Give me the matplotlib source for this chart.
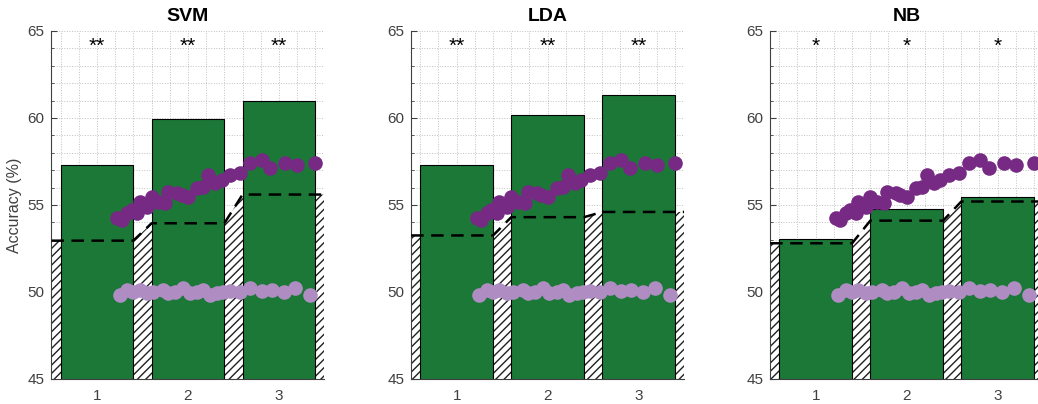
#import modules we need
import matplotlib.pyplot as plt
from matplotlib.ticker import MultipleLocator

# classifiers shown in each panel
classifiers = ['SVM', 'LDA', 'NB']
conditions = [1, 2, 3]

# decoding accuracy (%) per classifier and condition
acc_svm = [57.3, 59.95, 61.0]
acc_lda = [57.3, 60.15, 61.3]
acc_nb = [53.05, 54.75, 55.45]

# chance level (%) per classifier and condition
chance_svm = [52.95, 53.95, 55.6]
chance_lda = [53.25, 54.3, 54.6]
chance_nb = [52.8, 54.1, 55.2]

# significance marks per classifier
stars_svm = ['**', '**', '**']
stars_lda = ['**', '**', '**']
stars_nb = ['*', '*', '*']

# reference accuracy points, upper and lower groups
upper_x = [1.22, 1.27, 1.33, 1.38, 1.44, 1.47, 1.55, 1.60, 1.67, 1.75, 1.78, 1.88, 1.93, 2.00,
           2.10, 2.17, 2.22, 2.30, 2.37, 2.46, 2.57, 2.68, 2.81, 2.90, 3.07, 3.20, 3.40]
upper_y = [54.24, 54.14, 54.52, 54.71, 54.52, 55.19, 54.90, 55.48, 55.19, 55.10, 55.76, 55.67, 55.57, 55.48,
           55.96, 56.05, 56.72, 56.25, 56.44, 56.72, 56.82, 57.40, 57.59, 57.11, 57.40, 57.30, 57.43]
lower_x = [1.25, 1.33, 1.40, 1.47, 1.55, 1.62, 1.73, 1.78, 1.86, 1.95, 2.02, 2.10,
           2.17, 2.24, 2.32, 2.39, 2.46, 2.57, 2.68, 2.81, 2.92, 3.05, 3.18, 3.34]
lower_y = [49.83, 50.11, 50.02, 50.11, 49.93, 50.02, 50.11, 49.93, 50.02, 50.21, 49.93, 50.02,
           50.11, 49.83, 49.93, 50.02, 50.08, 49.98, 50.21, 50.08, 50.11, 50.02, 50.21, 49.83]

accuracies = [acc_svm, acc_lda, acc_nb]
chances = [chance_svm, chance_lda, chance_nb]
stars = [stars_svm, stars_lda, stars_nb]

plt.rcParams['font.family'] = ['Liberation Sans', 'DejaVu Sans']
plt.rcParams['hatch.linewidth'] = 1.0

bar_color = '#1b7837'
upper_color = '#762a83'
lower_color = '#af8dc3'
axis_color = '#404040'
bar_width = 0.8

fig = plt.figure(figsize=(10.38, 4.04), dpi=100)
lefts = [0.0496, 0.3961, 0.742]

for i in range(3):
    ax = fig.add_axes([lefts[i], 0.0619, 0.263, 0.8614])

    # chance level: flat over each bar, linear in the gaps between bars
    cx = [0.5]
    cy = [chances[i][0]]
    for k, c in enumerate(conditions):
        cx += [c - bar_width / 2, c + bar_width / 2] if k > 0 else [c + bar_width / 2]
        cy += [chances[i][k], chances[i][k]] if k > 0 else [chances[i][k]]
    cx.append(3.5)
    cy.append(chances[i][-1])

    ax.fill_between(cx, 45, cy, facecolor='white', edgecolor='#202020', hatch='////',
                    linewidth=0, zorder=1)
    ax.bar(conditions, accuracies[i], width=bar_width, color=bar_color,
           edgecolor='black', linewidth=0.8, zorder=2)
    ax.plot(cx, cy, color='black', linestyle=(0, (5, 3)), linewidth=1.8, zorder=3)

    ax.plot(upper_x, upper_y, 'o', color=upper_color, markersize=10.5,
            markeredgewidth=0, zorder=4)
    ax.plot(lower_x, lower_y, 'o', color=lower_color, markersize=10.5,
            markeredgewidth=0, zorder=4)

    for k, c in enumerate(conditions):
        ax.text(c, 63.8, stars[i][k], ha='center', va='baseline', fontsize=15, color='black')

    ax.set_xlim(0.5, 3.5)
    ax.set_ylim(45, 65)
    ax.set_xticks(conditions)
    ax.set_yticks([45, 50, 55, 60, 65])
    ax.xaxis.set_minor_locator(MultipleLocator(0.2))
    ax.yaxis.set_minor_locator(MultipleLocator(1))
    ax.tick_params(which='both', direction='in', colors=axis_color, labelsize=11)
    ax.tick_params(which='major', length=4)
    ax.tick_params(which='minor', length=2)
    ax.tick_params(axis='x', pad=7)
    ax.tick_params(axis='y', pad=5)
    ax.set_axisbelow(True)
    ax.grid(True, which='both', linestyle=':', color='#c0c0c0', linewidth=0.7)

    for side in ['top', 'right']:
        ax.spines[side].set_visible(False)
    for side in ['left', 'bottom']:
        ax.spines[side].set_color(axis_color)
        ax.spines[side].set_linewidth(0.8)

    ax.set_title(classifiers[i], fontsize=14, fontweight='bold', pad=7)
    if i == 0:
        ax.set_ylabel('Accuracy (%)', fontsize=11.5, color=axis_color, labelpad=4)

plt.savefig('out.png', dpi=100)
